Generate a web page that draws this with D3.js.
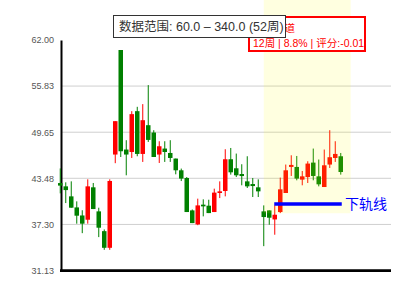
<!DOCTYPE html>
<html>
<head>
<meta charset="utf-8">
<script src="https://cdn.jsdelivr.net/npm/d3@7"></script>
<style>
  body { margin: 0; background: #fff; }
  svg { display: block; font-family: "Liberation Sans", Arial, "Noto Sans CJK SC", sans-serif; }
</style>
</head>
<body>
<div id="chart"></div>
<script>
// weekly candles
const opens  = [42.84, 42.40, 41.06, 39.58, 38.50, 37.93, 42.27, 39.05, 36.40, 34.17,
                46.66, 60.66, 47.33, 47.00, 52.47, 46.74, 50.59, 49.61, 46.66, 47.46,
                46.87, 46.12, 44.55, 43.52, 39.18, 37.30, 39.95, 39.81, 38.96, 41.51,
                41.78, 46.03, 44.82, 44.05, 43.07, 42.71, 42.27, 39.05, 39.18, 37.97,
                38.96, 41.51, 45.00, 45.00, 43.30, 43.65, 45.58, 43.74, 42.31, 45.32,
                46.20, 46.43]
const closes = [42.50, 41.90, 39.54, 38.47, 37.40, 42.40, 39.36, 36.86, 34.17, 43.12,
                51.13, 47.10, 46.66, 52.07, 46.74, 51.26, 48.62, 46.33, 47.77, 47.00,
                46.20, 44.55, 43.44, 38.96, 37.48, 39.85, 39.72, 38.82, 41.56, 41.73,
                46.03, 44.28, 43.88, 43.78, 42.40, 42.44, 41.73, 38.29, 38.20, 38.60,
                42.00, 44.55, 45.27, 43.44, 43.74, 45.45, 43.79, 42.67, 45.22, 46.30,
                46.74, 44.32]
const highs  = [44.80, 42.94, 43.07, 40.39, 39.20, 43.34, 42.85, 39.54, 36.63, 43.34,
                51.13, 60.66, 48.58, 52.47, 53.05, 53.41, 55.96, 49.92, 48.44, 48.44,
                48.58, 46.12, 44.78, 43.65, 39.30, 40.75, 40.66, 40.61, 42.09, 43.07,
                47.37, 47.54, 46.79, 45.36, 46.43, 43.52, 43.34, 39.85, 39.18, 39.85,
                43.57, 45.32, 46.56, 46.47, 44.46, 45.76, 47.46, 45.99, 47.33, 49.92,
                48.44, 46.87]
const lows   = [41.46, 40.16, 39.54, 37.40, 36.13, 37.40, 39.36, 35.60, 33.90, 33.90,
                45.50, 46.33, 43.88, 46.20, 46.43, 45.67, 48.35, 46.33, 45.53, 45.67,
                45.67, 44.01, 43.11, 38.96, 37.48, 37.20, 38.38, 38.82, 38.96, 40.83,
                41.06, 43.97, 43.65, 42.54, 42.18, 40.97, 40.97, 34.39, 37.26, 35.92,
                38.82, 41.51, 43.79, 43.21, 42.54, 42.85, 43.21, 42.40, 42.31, 44.86,
                45.67, 43.97]

const yTicks = [31.13, 37.30, 43.48, 49.65, 55.83, 62.00]

// highlighted window (in week index) and lower rail
const zoneStart = 37, zoneEnd = 52.8, zoneLow = 38.8
const railValue = 40.03, railFrom = 39, railTo = 51

const titleText = '数据范围: 60.0 – 340.0 (52周)'
const infoLines = ['下降通道', '12周 | 8.8% | 评分:-0.01']
const railLabel = '下轨线'

const W = 400, H = 300
const svg = d3.select('#chart').append('svg')
    .attr('width', W)
    .attr('height', H)

const weeks = d3.range(opens.length)

const x = d3.scaleBand()
    .domain(weeks)
    .range([57.5, 343.5])
    .paddingInner(0.18)
    .paddingOuter(0.09)
const cx = i => x(i) + x.bandwidth() / 2
// continuous version for the zone edges
const xc = d3.scaleLinear().domain([0, 1]).range([cx(0), cx(1)])

const y = d3.scaleLinear()
    .domain([yTicks[0], yTicks[yTicks.length - 1]])
    .range([270.5, 40])

// grid
svg.append('g')
  .selectAll('line')
  .data(yTicks.slice(1, -1))
  .join('line')
    .attr('x1', 62).attr('x2', 391)
    .attr('y1', d => y(d)).attr('y2', d => y(d))
    .attr('stroke', '#cfcfcf')
    .attr('stroke-width', 1)

// axes
const yAxis = svg.append('g')
    .attr('transform', 'translate(61,0)')
    .call(d3.axisLeft(y).tickValues(yTicks).tickFormat(d3.format('.2f')).tickSize(0).tickPadding(7))
yAxis.select('.domain').attr('stroke', '#000').attr('stroke-width', 2)
yAxis.selectAll('text')
    .attr('fill', '#555')
    .style('font-size', '9px')

svg.append('line')
    .attr('x1', 60).attr('x2', 391)
    .attr('y1', 270.7).attr('y2', 270.7)
    .attr('stroke', '#000')
    .attr('stroke-width', 2.7)

// candles
const candles = svg.append('g')
  .selectAll('g')
  .data(weeks)
  .join('g')
const colorOf = i => closes[i] >= opens[i] ? '#ff0000' : '#008000'

candles.append('line')
    .attr('x1', i => cx(i)).attr('x2', i => cx(i))
    .attr('y1', i => y(highs[i])).attr('y2', i => y(lows[i]))
    .attr('stroke', colorOf)
    .attr('stroke-width', 1)

candles.append('rect')
    .attr('x', i => x(i))
    .attr('width', x.bandwidth())
    .attr('y', i => y(Math.max(opens[i], closes[i])))
    .attr('height', i => Math.max(1, Math.abs(y(opens[i]) - y(closes[i]))))
    .attr('fill', colorOf)

// highlighted window, drawn as a thin yellow veil over the candles
svg.append('rect')
    .attr('x', xc(zoneStart))
    .attr('width', xc(zoneEnd) - xc(zoneStart))
    .attr('y', 0)
    .attr('height', y(zoneLow))
    .attr('fill', 'yellow')
    .attr('opacity', 0.12)

// lower rail
svg.append('line')
    .attr('x1', cx(railFrom) - 0.5).attr('x2', cx(railTo) + 1)
    .attr('y1', y(railValue)).attr('y2', y(railValue))
    .attr('stroke', '#0000ff')
    .attr('stroke-width', 3.5)
svg.append('text')
    .attr('x', 345)
    .attr('y', y(railValue) + 5)
    .attr('fill', '#0000ff')
    .style('font-size', '14px')
    .text(railLabel)

// info box (partly under the title box)
svg.append('rect')
    .attr('x', 249).attr('y', 17)
    .attr('width', 116).attr('height', 34)
    .attr('fill', '#fff')
    .attr('stroke', '#ff0000')
    .attr('stroke-width', 2)
svg.append('g')
  .selectAll('text')
  .data(infoLines)
  .join('text')
    .attr('x', 253)
    .attr('y', (d, k) => 32 + k * 15)
    .attr('fill', '#ff0000')
    .style('font-size', '10.5px')
    .text(d => d)

// title box
svg.append('rect')
    .attr('x', 113.5).attr('y', 15.5)
    .attr('width', 172).attr('height', 22)
    .attr('fill', '#fff')
    .attr('stroke', '#333')
    .attr('stroke-width', 1)
svg.append('text')
    .attr('x', 119)
    .attr('y', 31)
    .attr('fill', '#333')
    .style('font-size', '12.5px')
    .text(titleText)
</script>
</body>
</html>
